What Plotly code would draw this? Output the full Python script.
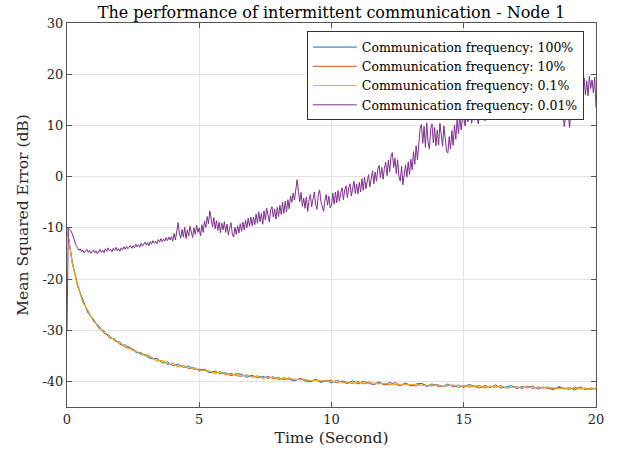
import numpy as np
import plotly.graph_objects as go

# ---------------- data ----------------
dt_fast = 0.2    # sample step (s) for the three well-connected curves
dt_slow = 0.05   # sample step (s) for the 0.01% curve

freq_100 = [-10.0, -16.6, -21.4, -24.2, -26.7, -27.8, -29.6, -30.1, -31.5, -31.7,
            -32.8, -32.9, -33.5, -34.3, -34.4, -35.1, -35.6, -35.5, -36.4, -36.2,
            -36.9, -36.6, -37.3, -37.0, -37.7, -37.6, -37.8, -38.3, -38.0, -38.5,
            -38.3, -38.9, -38.5, -38.6, -39.2, -38.8, -39.3, -39.0, -39.4, -39.1,
            -39.7, -39.3, -39.6, -39.9, -39.4, -39.9, -40.1, -39.6, -40.2, -39.8,
            -40.3, -39.8, -40.1, -40.4, -39.9, -40.5, -40.0, -40.4, -40.6, -40.1,
            -40.7, -40.2, -40.6, -40.8, -40.3, -40.9, -40.5, -40.4, -41.0, -40.5,
            -40.9, -41.0, -40.5, -41.1, -40.7, -41.2, -40.6, -41.0, -41.3, -40.8,
            -41.2, -40.7, -41.3, -41.1, -40.8, -41.4, -41.0, -41.3, -40.9, -41.5,
            -41.1, -41.4, -41.6, -41.0, -41.5, -41.2, -41.7, -41.1, -41.6, -41.3,
            -41.5]

freq_10 = [-10.0, -17.0, -21.0, -24.6, -26.2, -28.3, -29.1, -30.6, -31.0, -32.1,
           -32.3, -33.4, -33.5, -34.0, -34.8, -34.8, -35.3, -36.0, -35.9, -36.7,
           -36.4, -37.2, -36.9, -37.5, -37.3, -38.0, -37.6, -38.2, -38.4, -38.1,
           -38.7, -38.4, -38.9, -39.0, -38.7, -39.2, -38.9, -39.4, -39.0, -39.5,
           -39.2, -39.7, -39.3, -39.8, -39.5, -39.6, -40.0, -39.6, -40.1, -40.0,
           -39.8, -40.3, -39.9, -40.2, -40.4, -40.0, -40.5, -40.1, -40.6, -40.3,
           -40.5, -40.7, -40.2, -40.8, -40.5, -40.7, -40.9, -40.4, -40.8, -40.9,
           -40.6, -41.0, -40.8, -40.7, -41.2, -40.8, -41.1, -40.9, -40.8, -41.3,
           -40.9, -41.2, -40.8, -41.3, -41.2, -41.0, -41.4, -40.9, -41.4, -41.1,
           -41.3, -41.1, -41.5, -41.2, -41.3, -41.6, -41.1, -41.5, -41.3, -41.6,
           -41.3]

freq_01 = [-10.0, -16.9, -21.3, -24.5, -26.3, -28.1, -29.4, -30.2, -31.3, -31.8,
           -32.6, -33.0, -33.8, -34.1, -34.6, -35.0, -35.3, -35.9, -36.0, -36.5,
           -36.5, -37.0, -37.2, -37.2, -37.6, -37.8, -37.9, -38.0, -38.4, -38.2,
           -38.5, -38.7, -38.6, -38.9, -38.8, -39.1, -39.1, -39.2, -39.3, -39.2,
           -39.5, -39.4, -39.6, -39.5, -39.7, -39.7, -39.8, -39.9, -39.8, -40.0,
           -40.1, -39.9, -40.2, -40.1, -40.3, -40.2, -40.3, -40.4, -40.3, -40.5,
           -40.4, -40.5, -40.6, -40.5, -40.7, -40.6, -40.6, -40.8, -40.7, -40.7,
           -40.8, -40.9, -40.7, -40.9, -40.8, -41.0, -40.9, -40.9, -41.1, -41.0,
           -41.0, -41.1, -41.0, -41.2, -41.1, -41.1, -41.2, -41.2, -41.1, -41.3,
           -41.2, -41.3, -41.2, -41.4, -41.3, -41.3, -41.4, -41.3, -41.4, -41.5,
           -41.4]

freq_001 = [
    -30.0, -10.1, -10.3, -10.6, -11.2, -12.0, -12.9, -13.5, -13.9, -14.4,
    -14.1, -14.7, -14.3, -14.9, -14.5, -14.2, -14.8, -14.4, -15.0, -14.6,
    -14.3, -14.9, -14.5, -15.1, -14.6, -14.2, -14.8, -14.4, -14.9, -14.1,
    -14.6, -13.9, -14.5, -14.2, -14.7, -14.0, -14.4, -13.8, -14.5, -14.1,
    -14.6, -13.9, -14.3, -13.7, -14.2, -13.6, -14.1, -13.8, -13.4, -14.0,
    -13.5, -13.9, -13.2, -13.7, -13.3, -13.8, -13.0, -13.6, -13.1, -12.8,
    -13.4, -12.9, -13.5, -12.7, -13.2, -12.5, -13.0, -12.6, -13.1, -12.3,
    -12.8, -12.1, -12.7, -12.2, -12.6, -11.9, -12.5, -11.8, -12.4, -11.7,
    -12.6, -11.1, -12.4, -10.3, -9.0, -11.2, -12.0, -10.3, -11.8, -9.9,
    -12.1, -10.4, -11.6, -9.7, -11.2, -11.9, -10.0, -11.3, -9.5, -10.9,
    -10.0, -11.6, -9.4, -10.9, -8.7, -9.9, -7.8, -9.2, -6.7, -8.5,
    -9.8, -8.0, -10.2, -8.6, -10.5, -8.9, -11.0, -9.1, -10.4, -8.8,
    -10.9, -9.3, -11.4, -10.0, -9.0, -11.2, -11.8, -9.9, -11.3, -9.6,
    -11.0, -9.2, -10.7, -8.9, -10.4, -8.5, -10.0, -8.1, -9.7, -7.9,
    -9.6, -7.9, -9.4, -7.3, -9.1, -6.9, -8.8, -7.2, -9.3, -6.7,
    -8.5, -6.2, -8.0, -8.9, -6.5, -5.9, -7.9, -6.3, -8.3, -6.0,
    -7.8, -5.6, -7.4, -5.0, -7.2, -4.8, -6.9, -4.5, -6.3, -3.8,
    -5.0, -3.2, -4.6, -1.9, -0.6, -2.9, -4.9, -3.1, -5.8, -4.2,
    -6.2, -4.0, -6.8, -4.6, -3.5, -5.9, -4.2, -3.0, -5.4, -6.4,
    -3.7, -2.6, -4.9, -6.0, -6.8, -4.7, -3.5, -5.6, -3.8, -6.1,
    -5.6, -3.2, -5.4, -3.0, -5.1, -2.7, -4.8, -3.1, -2.2, -4.5,
    -2.6, -1.8, -4.1, -2.1, -1.4, -3.8, -2.0, -0.9, -3.3, -1.5,
    -3.4, -1.1, -3.0, -0.4, -2.7, -0.1, -2.4, -0.6, 0.4, -2.0,
    0.1, 1.1, -1.4, 0.9, -0.9, 1.5, 2.2, -0.2, 1.8, -0.5,
    1.6, 2.8, 0.2, 3.2, 0.9, 4.0, 4.7, 1.8, 3.6, 0.6,
    3.3, 0.0, -0.9, 2.0, -1.6, 0.8, 2.3, -0.1, 2.9, 0.4,
    3.4, 1.3, 4.9, 2.4, 6.0, 3.3, 7.5, 9.4, 10.2, 6.5,
    9.8, 5.7, 10.5, 6.8, 5.4, 9.3, 10.3, 6.6, 9.6, 6.0,
    9.1, 6.2, 10.4, 7.3, 5.9, 9.9, 6.6, 5.0, 4.6, 7.8,
    5.4, 9.0, 6.1, 10.1, 7.3, 11.3, 8.4, 11.9, 9.1, 11.2,
    11.6, 9.9, 12.4, 10.7, 11.5, 13.2, 10.4, 12.8, 11.0, 13.6,
    11.8, 10.3, 12.9, 11.4, 14.0, 12.2, 10.9, 13.5, 12.6, 14.3,
    12.0, 14.7, 13.2, 11.8, 15.1, 13.6, 14.8, 12.5, 15.6, 13.9,
    12.9, 15.0, 16.2, 14.1, 15.5, 13.0, 16.4, 14.6, 15.8, 14.0,
    16.6, 14.9, 15.7, 13.4, 12.6, 15.2, 16.8, 14.3, 17.3, 15.6,
    14.2, 16.5, 13.8, 12.2, 14.9, 16.1, 14.7, 13.5, 15.9, 14.4,
    13.1, 15.4, 12.3, 14.6, 11.9, 13.8, 15.7, 12.8, 14.9, 13.3,
    15.2, 12.0, 14.1, 11.5, 13.6, 12.4, 9.8, 11.7, 13.9, 12.2,
    9.6, 12.5, 14.8, 13.0, 16.2, 15.1, 17.6, 14.9, 18.4, 16.3,
    17.1, 19.3, 16.0, 18.7, 15.8, 19.6, 17.2, 18.9, 16.4, 19.4,
    13.5]

series_names = ["Communication frequency: 100%",
                "Communication frequency: 10%",
                "Communication frequency: 0.1%",
                "Communication frequency: 0.01%"]

x_tick_vals = [0, 5, 10, 15, 20]
y_tick_vals = [30, 20, 10, 0, -10, -20, -30, -40]
y_tick_text = ["30", "20", "10", "0", "-10", "-20", "-30", "-40"]

# ---------------- figure ----------------
t_fast = np.arange(len(freq_100)) * dt_fast
t_slow = np.arange(len(freq_001)) * dt_slow

colors = ["#0072BD", "#D95319", "#EDB120", "#7E2F8E"]
FONT = "DejaVu Serif"
TXT = "#262626"

fig = go.Figure()
for name, t, y, c in zip(series_names,
                         [t_fast, t_fast, t_fast, t_slow],
                         [freq_100, freq_10, freq_01, freq_001],
                         colors):
    fig.add_trace(go.Scatter(x=t, y=y, mode="lines", name=name,
                             line=dict(color=c, width=1)))

axis_common = dict(showline=True, linecolor="#555555", linewidth=1, mirror="ticks",
                   ticks="inside", ticklen=5, tickcolor="#555555",
                   showgrid=True, gridcolor="#e3e3e3", gridwidth=1,
                   zeroline=False, automargin=False,
                   tickfont=dict(family=FONT, size=13, color=TXT))

fig.update_layout(
    width=618, height=457,
    margin=dict(l=67, r=22, t=23, b=50),
    paper_bgcolor="white", plot_bgcolor="white",
    title=dict(text="The performance of intermittent communication - Node 1",
               x=(67 + 596) / 2 / 618, xanchor="center", y=1 - 12 / 457, yanchor="middle",
               font=dict(family=FONT, size=16, color="#000000")),
    xaxis=dict(range=[0, 20], tickvals=x_tick_vals, ticktext=[str(v) for v in x_tick_vals],
               title=dict(text="Time (Second)", font=dict(family=FONT, size=15.5, color=TXT),
                          standoff=6),
               **axis_common),
    yaxis=dict(range=[-45, 30], tickvals=y_tick_vals, ticktext=y_tick_text,
               title=dict(text="Mean Squared Error (dB)", font=dict(family=FONT, size=15.5, color=TXT),
                          standoff=10),
               **axis_common),
    legend=dict(x=0.977, y=0.978, xanchor="right", yanchor="top",
                bgcolor="white", bordercolor="#333333", borderwidth=1,
                font=dict(family=FONT, size=12.5, color="#000000"),
                tracegroupgap=0, itemwidth=44),
    showlegend=True,
)

fig.write_html("out.html", config={"displayModeBar": False},
               post_script="document.body.style.margin='0px';")
